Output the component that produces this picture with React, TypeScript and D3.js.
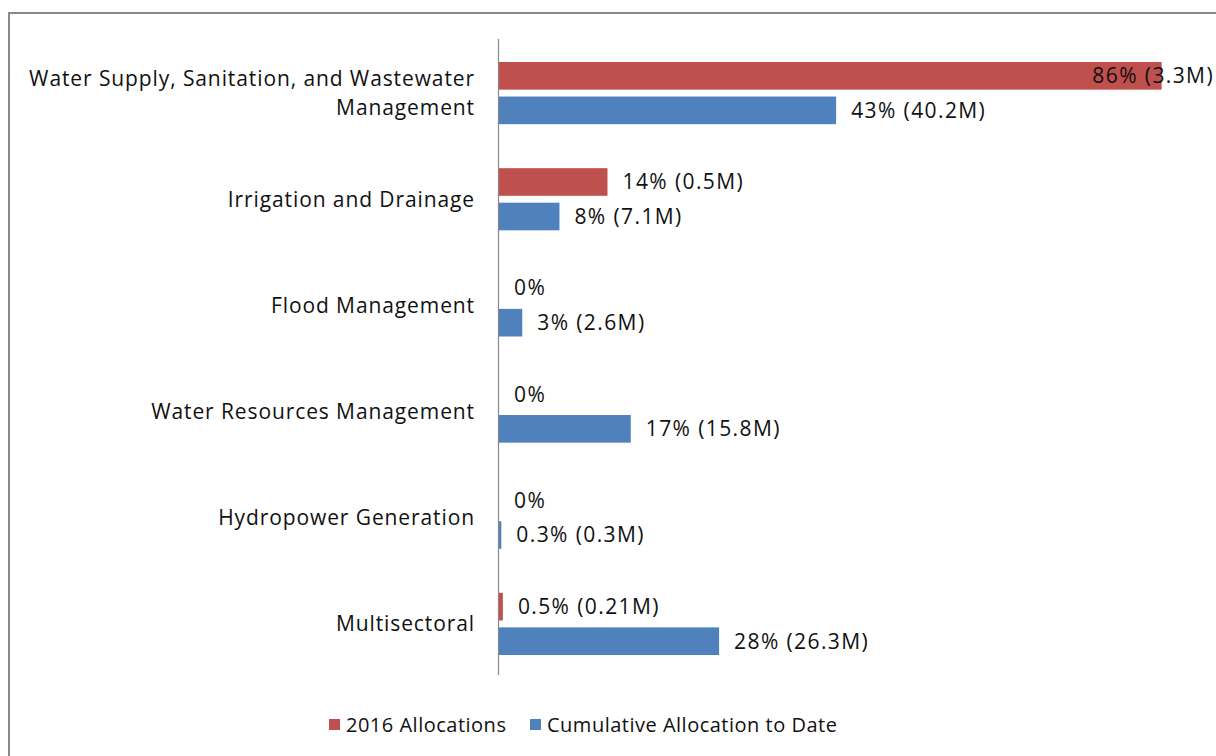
import React, { useEffect, useRef } from 'react';
import * as d3 from 'd3';

const categories = [
  ['Water Supply, Sanitation, and Wastewater', 'Management'],
  ['Irrigation and Drainage'],
  ['Flood Management'],
  ['Water Resources Management'],
  ['Hydropower Generation'],
  ['Multisectoral'],
];
const series = ['2016 Allocations', 'Cumulative Allocation to Date'];
const colors = ['#c0504d', '#4f81bd'];
const alloc2016 = [85.5, 14, 0, 0, 0, 0.5];
const cumulative = [43.5, 7.8, 3, 17, 0.3, 28.4];
const labels2016 = ['86% (3.3M)', '14% (0.5M)', '0%', '0%', '0%', '0.5% (0.21M)'];
const labelsCum = ['43% (40.2M)', '8% (7.1M)', '3% (2.6M)', '17% (15.8M)', '0.3% (0.3M)', '28% (26.3M)'];

const FONT = '"Open Sans", Lato, sans-serif';

const App: React.FC = () => {
  const ref = useRef<SVGSVGElement | null>(null);

  useEffect(() => {
    if (!ref.current) return;
    const width = 1216;
    const height = 756;
    const svg = d3.select(ref.current);
    svg.selectAll('*').remove();

    // chart frame
    svg.append('rect')
      .attr('x', 9).attr('y', 13)
      .attr('width', width + 20).attr('height', height + 20)
      .attr('fill', 'white')
      .attr('stroke', '#888').attr('stroke-width', 2);

    const axisX = 498.5;
    const plotTop = 40;
    const plotBottom = 677;
    const plotRight = 1214;

    const x = d3.scaleLinear().domain([0, 100]).range([axisX + 0.5, axisX + 0.5 + 775]);
    const y = d3.scaleBand<number>().domain(d3.range(categories.length)).range([plotTop, plotBottom]);
    const inner = d3.scaleBand<number>().domain([0, 1]).range([22, y.bandwidth() - 22]).paddingInner(0.2);

    const data = [alloc2016, cumulative];
    const labels = [labels2016, labelsCum];

    data.forEach((vals, s) => {
      const g = svg.append('g');
      g.selectAll('rect')
        .data(vals)
        .enter().append('rect')
        .attr('x', x(0))
        .attr('y', (d, i) => (y(i) as number) + (inner(s) as number))
        .attr('width', d => x(d) - x(0))
        .attr('height', inner.bandwidth())
        .attr('fill', colors[s]);

      g.selectAll('text')
        .data(vals)
        .enter().append('text')
        .attr('x', d => (x(d) + 15 > 1050 ? plotRight : x(d) + 15))
        .attr('text-anchor', d => (x(d) + 15 > 1050 ? 'end' : 'start'))
        .attr('y', (d, i) => (y(i) as number) + (inner(s) as number) + inner.bandwidth() / 2)
        .attr('dy', '0.35em')
        .style('font-family', FONT)
        .style('font-size', '21px')
        .style('letter-spacing', '1.4px')
        .style('fill', '#111')
        .text((d, i) => labels[s][i]);
    });

    // vertical axis line
    svg.append('line')
      .attr('x1', axisX).attr('x2', axisX)
      .attr('y1', plotTop - 1).attr('y2', plotBottom - 2)
      .attr('stroke', '#888').attr('stroke-width', 1.2);

    // category labels
    categories.forEach((lines, i) => {
      const cy = (y(i) as number) + y.bandwidth() / 2;
      const t = svg.append('text')
        .attr('text-anchor', 'end')
        .style('font-family', FONT)
        .style('font-size', '21px')
        .style('letter-spacing', '0.9px')
        .style('fill', '#111');
      lines.forEach((line, j) => {
        t.append('tspan')
          .attr('x', 475)
          .attr('y', cy + (j - (lines.length - 1) / 2) * 29)
          .attr('dy', '0.35em')
          .text(line);
      });
    });

    // legend
    const legendX = [329, 530];
    const legendY = 725;
    series.forEach((name, s) => {
      svg.append('rect')
        .attr('x', legendX[s]).attr('y', legendY - 6)
        .attr('width', 11).attr('height', 11)
        .attr('fill', colors[s]);
      svg.append('text')
        .attr('x', legendX[s] + 17).attr('y', legendY)
        .attr('dy', '0.35em')
        .style('font-family', FONT)
        .style('font-size', '20px')
        .style('letter-spacing', '0.5px')
        .style('fill', '#111')
        .text(name);
    });
  }, []);

  return (
    <svg ref={ref} width={1216} height={756}
      style={{ position: 'absolute', left: 0, top: 0, display: 'block', background: 'white' }} />
  );
};

export default App;
